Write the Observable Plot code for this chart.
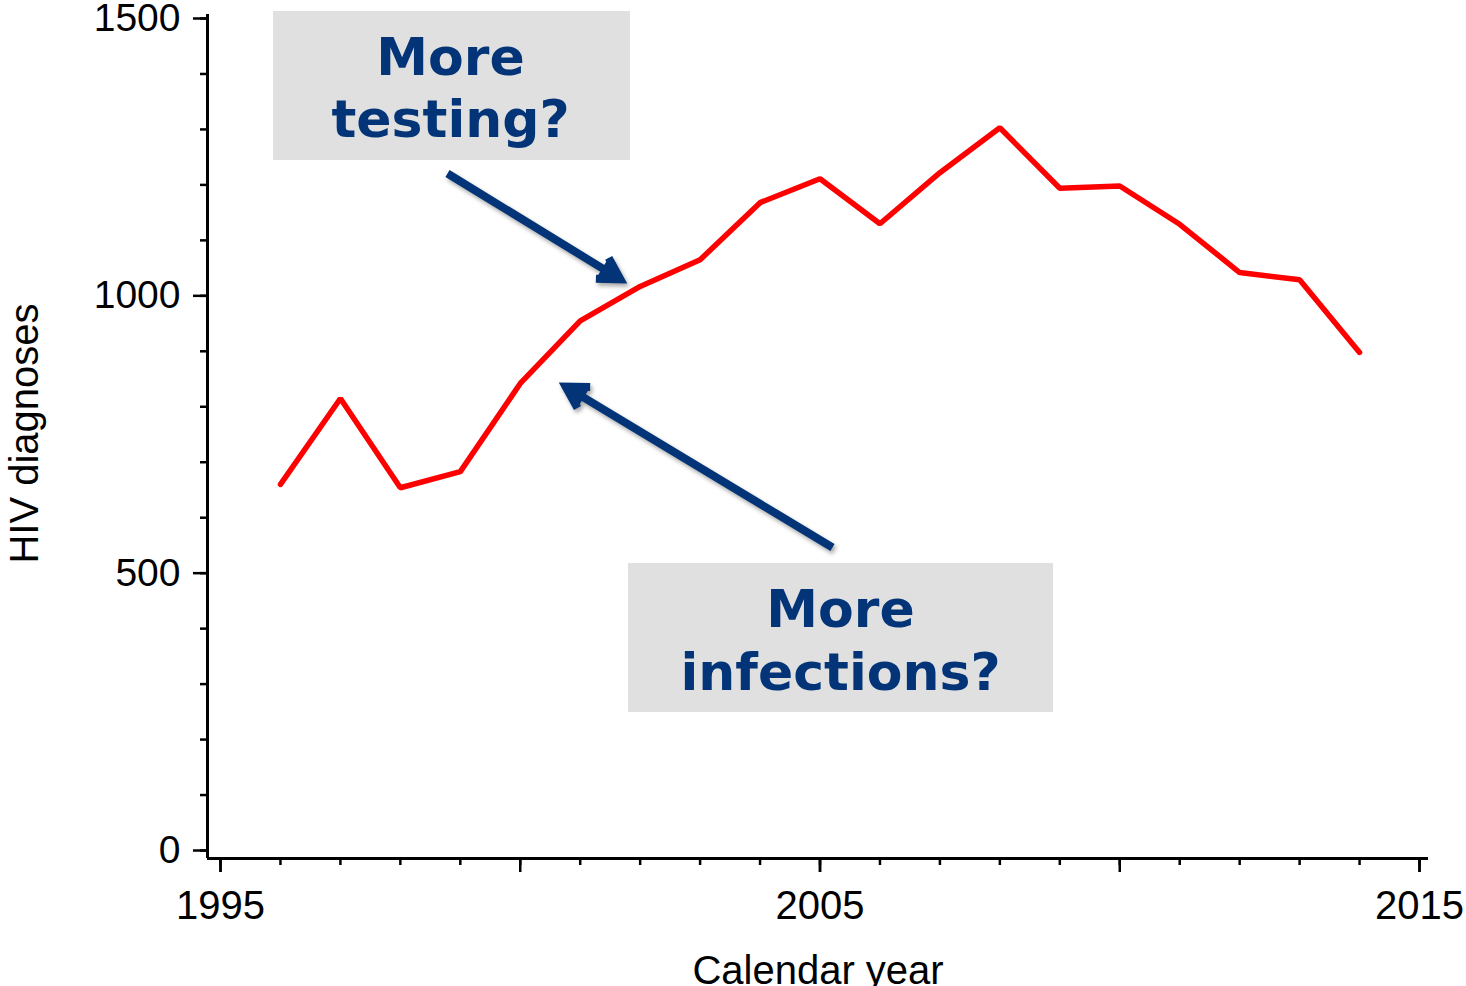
<!DOCTYPE html>
<html><head><meta charset="utf-8">
<script src="https://cdn.jsdelivr.net/npm/d3@7"></script>
<script src="https://cdn.jsdelivr.net/npm/@observablehq/plot@0.6"></script>
<style>html,body{margin:0;padding:0;background:#fff}</style>
</head><body><div id="chart"></div>
<script>
// ---- data ----
const years = [1996,1997,1998,1999,2000,2001,2002,2003,2004,2005,2006,2007,2008,2009,2010,2011,2012,2013,2014];
const diagnoses = [660,815,654,683,842,955,1017,1065,1168,1211,1130,1222,1303,1194,1198,1129,1042,1029,898];

const yMajorTicks = [0,500,1000,1500];
const yMinorTicks = [0,100,200,300,400,500,600,700,800,900,1000,1100,1200,1300,1400,1500];
const xMinorTicks = [1995,1996,1997,1998,1999,2000,2001,2002,2003,2004,2005,2006,2007,2008,2009,2010,2011,2012,2013,2014,2015];
const xMajorTicks = [1995,2000,2005,2010,2015];
const xTickLabels = [1995,2005,2015];

const xTitle = "Calendar year";
const yTitle = "HIV diagnoses";

// annotation boxes (data coordinates)
const boxes = [
  {x1: 1995.884, x2: 2001.839, y1: 1244.0, y2: 1512.6},
  {x1: 2001.806, x2: 2008.895, y1: 248.8, y2: 517.4}
];
const boxLines = [
  {x: 1998.837, y: 1399.0, text: "More"},
  {x: 1998.837, y: 1287.2, text: "testing?"},
  {x: 2005.342, y: 403.8, text: "More"},
  {x: 2005.342, y: 288.5, text: "infections?"}
];
const arrows = [
  {x1: 1998.786, y1: 1220.5, x2: 2001.756, y2: 1024.0},
  {x1: 2005.208, y1: 546.3, x2: 2000.671, y2: 842.0}
];

const xDomain = [1994.783, 2015.15];
const yDomain = [-14.4, 1507.2];

const navy = "#023477";
const table = years.map((year, i) => ({year, value: diagnoses[i]}));
const fmt = d => String(d);

const chart = Plot.plot({
  width: 1466,
  height: 986,
  marginTop: 14,
  marginBottom: 128,
  marginLeft: 207,
  marginRight: 38,
  style: {fontFamily: "'Liberation Sans', Arial, sans-serif", background: "white", color: "black"},
  x: {domain: xDomain, label: null},
  y: {domain: yDomain, label: null},
  marks: [
    // axis lines
    Plot.ruleX([xDomain[0]], {y1: yDomain[0], y2: yDomain[1], stroke: "black", strokeWidth: 3}),
    Plot.ruleY([yDomain[0]], {x1: xDomain[0], x2: xDomain[1], stroke: "black", strokeWidth: 3}),
    // y ticks
    Plot.axisY({ticks: yMinorTicks, tickSize: 7, tickFormat: () => "", strokeWidth: 2.5, label: null}),
    Plot.axisY({ticks: yMajorTicks, tickSize: 14, tickPadding: 13, tickFormat: fmt, fontSize: 39, strokeWidth: 2.5, label: null}),
    // x ticks
    Plot.axisX({ticks: xMinorTicks, tickSize: 7, tickFormat: () => "", strokeWidth: 2.5, label: null}),
    Plot.axisX({ticks: xMajorTicks, tickSize: 14, tickFormat: () => "", strokeWidth: 2.5, label: null}),
    Plot.axisX({ticks: xTickLabels, tickSize: 14, tickPadding: 18, tickFormat: fmt, fontSize: 40, strokeWidth: 2.5, label: null}),
    // axis titles
    Plot.text([xTitle], {text: d => d, frameAnchor: "bottom", dy: 125, lineAnchor: "bottom", textAnchor: "middle", fontSize: 40, fill: "black"}),
    Plot.text([yTitle], {text: d => d, frameAnchor: "left", rotate: -90, dx: -170, dy: -3, lineAnchor: "bottom", textAnchor: "middle", fontSize: 40, fill: "black"}),
    // data line
    Plot.line(table, {x: "year", y: "value", stroke: "#ff0000", strokeWidth: 5.5, strokeLinejoin: "miter"}),
    // annotations
    Plot.rect(boxes, {x1: "x1", x2: "x2", y1: "y1", y2: "y2", fill: "#e0e0e0"}),
    Plot.text(boxLines, {x: "x", y: "y", text: "text", lineAnchor: "bottom", textAnchor: "middle", fontSize: 52, fontWeight: "bold", fontFamily: "'DejaVu Sans', Verdana, sans-serif", fill: navy}),
    Plot.arrow(arrows, {x1: "x1", y1: "y1", x2: "x2", y2: "y2", stroke: navy, fill: navy, strokeWidth: 8, headLength: 4.6, headAngle: 60, insetEnd: 6, strokeLinecap: "butt", strokeLinejoin: "miter", strokeMiterlimit: 4})
  ]
});

d3.select(chart).selectAll("g[aria-label='arrow']").style("filter", "drop-shadow(2px 3px 2px rgba(0,0,0,0.35))");
document.getElementById("chart").appendChild(chart);
</script>
</body></html>
